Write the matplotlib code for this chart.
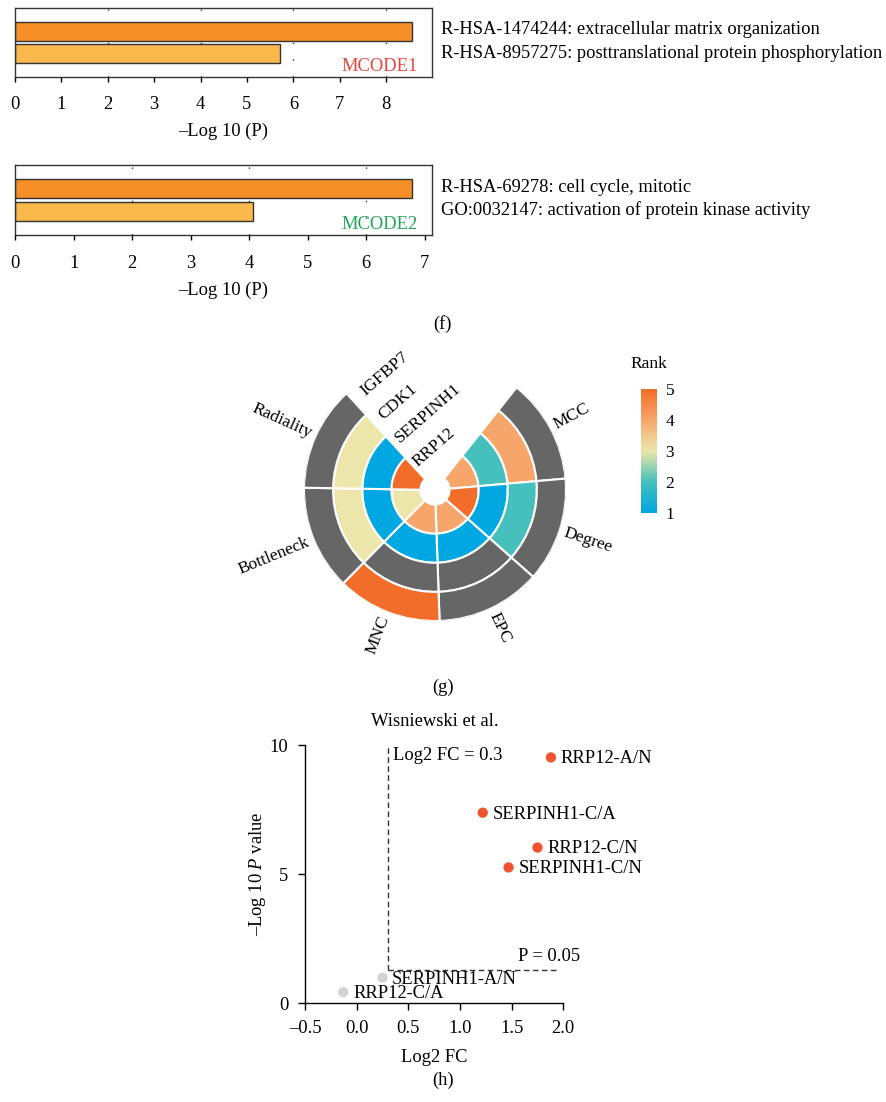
import numpy as np
import matplotlib
matplotlib.use('Agg')
import matplotlib.pyplot as plt
from matplotlib.colors import LinearSegmentedColormap, Normalize
from matplotlib.cm import ScalarMappable

plt.rcParams['font.family'] = ['Liberation Serif', 'DejaVu Serif']
plt.rcParams['mathtext.fontset'] = 'custom'
plt.rcParams['mathtext.rm'] = 'Liberation Serif'
plt.rcParams['mathtext.it'] = 'Liberation Serif:italic'

W, H = 887, 1102
FS = 13.3
FS_RING = 12.5

# (f) enrichment of the two MCODE clusters
mcode1_terms = ['R-HSA-1474244: extracellular matrix organization',
                'R-HSA-8957275: posttranslational protein phosphorylation']
mcode1_logp = [8.555, 5.715]
mcode2_terms = ['R-HSA-69278: cell cycle, mitotic',
                'GO:0032147: activation of protein kinase activity']
mcode2_logp = [6.78, 4.06]
bar_colors = ['#f68f27', '#fbb84c']

# (g) hub gene rank per topology algorithm (nan = not ranked)
genes = ['RRP12', 'SERPINH1', 'CDK1', 'IGFBP7']
metrics = ['MCC', 'Degree', 'EPC', 'MNC', 'Bottleneck', 'Radiality']
nan = np.nan
ranks = [
    [4, 5, 4, 4, 3, 5],
    [2, 1, 1, 1, 1, 1],
    [4, 2, nan, nan, 3, 3],
    [nan, nan, nan, 5, nan, nan],
]
rank_colors = ['#00a7e1', '#45c0bc', '#ece6aa', '#f7a76c', '#f26d29']
na_color = '#666666'

# (h) volcano
pair_labels = ['RRP12-A/N', 'SERPINH1-C/A', 'RRP12-C/N', 'SERPINH1-C/N',
               'SERPINH1-A/N', 'RRP12-C/A']
log2fc = [1.88, 1.22, 1.75, 1.47, 0.25, -0.13]
neglogp = [9.52, 7.38, 6.03, 5.26, 0.99, 0.43]
fc_cut = 0.3
p_cut = 1.3


def px(x, y):
    return x / W, 1 - y / H


def box(l, t, r, b):
    return [l / W, 1 - b / H, (r - l) / W, (b - t) / H]


fig = plt.figure(figsize=(W / 100, H / 100), dpi=100)


def enrich_panel(rect, vals, terms, tag, tag_color, text_y):
    ax = fig.add_axes(rect)
    ypos = np.arange(len(vals))
    xmax = max(vals) * 1.05
    ax.barh(ypos, vals, height=0.83, color=bar_colors, edgecolor='#333333',
            linewidth=1.0, zorder=2)
    ax.set_xlim(0, xmax)
    ax.set_ylim(len(vals), -1)
    ax.set_yticks([])
    ax.set_xticks(range(int(xmax) + 1))
    for gx in range(2, int(xmax) + 1, 2):
        ax.axvline(gx, color='#333333', lw=1.0, ls=(0, (1, 11)), zorder=1)
    ax.tick_params(axis='x', length=3.6, width=1, labelsize=FS, pad=10.5)
    for s in ax.spines.values():
        s.set_linewidth(1.0)
        s.set_color('#333333')
    ax.set_xlabel('\u2013Log 10 (P)', fontsize=FS, labelpad=7)
    ax.text(0.966, 0.03, tag, transform=ax.transAxes, ha='right', va='bottom',
            color=tag_color, fontsize=FS)
    for k, t in enumerate(terms):
        fig.text(*px(441, text_y[k]), t, ha='left', va='center', fontsize=FS)
    return ax


enrich_panel(box(15, 8.3, 431.7, 76.7), mcode1_logp, mcode1_terms, 'MCODE1',
             '#e8453c', [30, 54])
enrich_panel(box(15, 165, 431.7, 235), mcode2_logp, mcode2_terms, 'MCODE2',
             '#20a458', [187, 210])

fig.text(*px(443, 324), '(f)', ha='center', va='center', fontsize=FS)

# circular rank heatmap
cmap = LinearSegmentedColormap.from_list('rank', rank_colors)
norm = Normalize(1, 5)
R = 131
pax = fig.add_axes(box(435 - R, 490 - R, 435 + R, 490 + R), projection='polar')
n = len(metrics)
width = np.deg2rad(46.5)
start = np.deg2rad(51.5)
centers = start - width * (np.arange(n) + 0.5)
for i, g in enumerate(genes):
    for j in range(n):
        v = ranks[i][j]
        c = na_color if np.isnan(v) else cmap(norm(v))
        pax.bar(centers[j], 1, width=width, bottom=0.5 + i, color=c,
                edgecolor='white', linewidth=1.5)
pax.set_ylim(0, 4.5)
pax.set_axis_off()

for j, m in enumerate(metrics):
    deg = np.rad2deg(centers[j]) % 360
    if 90 < deg < 270:
        rot, ha = deg - 180, 'right'
    else:
        rot, ha = (deg if deg <= 90 else deg - 360), 'left'
    pax.text(centers[j], 4.68, m, rotation=rot, rotation_mode='anchor',
             ha=ha, va='center', fontsize=FS_RING, clip_on=False)

lab_theta = np.deg2rad(126.5)
for i, g in enumerate(genes):
    pax.text(lab_theta, 1.0 + i, g, rotation=41, rotation_mode='anchor',
             ha='left', va='baseline', fontsize=FS_RING, clip_on=False)

cax = fig.add_axes(box(641, 389.3, 657.3, 512.7))
cb = fig.colorbar(ScalarMappable(norm=norm, cmap=cmap), cax=cax)
cb.outline.set_visible(False)
cb.set_ticks([1, 2, 3, 4, 5])
cax.tick_params(length=0, labelsize=FS_RING, pad=6)
fig.text(*px(649, 364), 'Rank', ha='center', va='center', fontsize=FS_RING)

fig.text(*px(443, 687), '(g)', ha='center', va='center', fontsize=FS)

# volcano plot
vax = fig.add_axes(box(305, 745, 563.3, 1003.3))
fc = np.array(log2fc)
lp = np.array(neglogp)
sig = (fc > fc_cut) & (lp > p_cut)
vax.scatter(fc[sig], lp[sig], s=55, color='#ef5330', edgecolor='none',
            zorder=3, clip_on=False)
vax.scatter(fc[~sig], lp[~sig], s=55, color='#d3d3d3', edgecolor='none',
            zorder=3, clip_on=False)
for x, y, t in zip(fc, lp, pair_labels):
    vax.annotate(t, (x, y), xytext=(7, -1), textcoords='offset points',
                 ha='left', va='center', fontsize=FS, annotation_clip=False)
vax.plot([fc_cut, fc_cut], [p_cut, 10], ls=(0, (4, 2.5)), color='#333333', lw=1)
vax.plot([fc_cut, 1.95], [p_cut, p_cut], ls=(0, (4, 2.5)), color='#333333', lw=1)
vax.text(fc_cut + 0.05, 9.6, 'Log2 FC = 0.3', ha='left', va='center', fontsize=FS)
vax.text(1.56, 1.5, 'P = 0.05', ha='left', va='bottom', fontsize=FS)
vax.set_xlim(-0.5, 2.0)
vax.set_ylim(0, 10)
xt = np.arange(-0.5, 2.01, 0.5)
vax.set_xticks(xt)
vax.set_xticklabels([f'{t:.1f}'.replace('-', '\u2013') for t in xt])
vax.set_yticks([0, 5, 10])
for s in ['top', 'right']:
    vax.spines[s].set_visible(False)
for s in ['left', 'bottom']:
    vax.spines[s].set_linewidth(1.0)
vax.tick_params(length=5, width=1, labelsize=FS)
vax.tick_params(axis='x', pad=7)
vax.tick_params(axis='y', pad=7)
vax.set_xlabel('Log2 FC', fontsize=FS, labelpad=9)
vax.set_ylabel('\u2013Log 10 $P$ value', fontsize=FS, labelpad=1.5)
fig.text(*px(435, 722), 'Wisniewski et al.', ha='center', va='center', fontsize=FS)

fig.text(*px(443, 1080), '(h)', ha='center', va='center', fontsize=FS)

fig.savefig('out.png', dpi=100)
